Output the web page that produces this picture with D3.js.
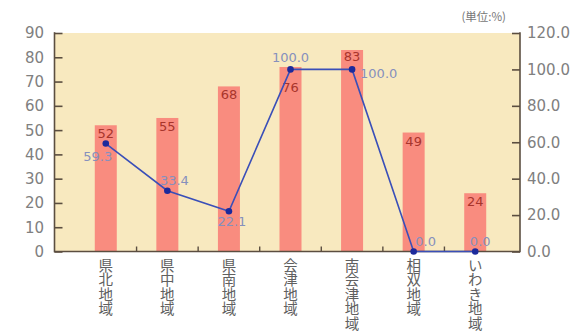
<!DOCTYPE html>
<html>
<head>
<meta charset="utf-8">
<script src="https://cdn.jsdelivr.net/npm/d3@7/dist/d3.min.js"></script>
<style>
  html, body { margin: 0; padding: 0; background: #ffffff; }
  svg { display: block; }
</style>
</head>
<body>
<svg id="chart" width="570" height="334"></svg>
<script>
// Regions (categories)
const regions = ["県北地域", "県中地域", "県南地域", "会津地域", "南会津地域", "相双地域", "いわき地域"];
// Bar series (left axis, 0-90)
const barValues = [52, 55, 68, 76, 83, 49, 24];
// Line series (right axis, 0-120 %)
const lineValues = [59.3, 33.4, 22.1, 100.0, 100.0, 0.0, 0.0];
// Axis ticks
const leftTicks = [0, 10, 20, 30, 40, 50, 60, 70, 80, 90];
const rightTicks = [0, 20, 40, 60, 80, 100, 120];
const unitLabel = "(単位:%)";

const svg = d3.select("#chart");
const plot = { left: 54.5, right: 520, top: 33, bottom: 251.5 };

const x = d3.scaleBand().domain(regions).range([75, 506]).paddingInner(0).paddingOuter(0);
const yL = d3.scaleLinear().domain([0, 90]).range([plot.bottom, plot.top]);
const yR = d3.scaleLinear().domain([0, 120]).range([plot.bottom, plot.top]);

const numFont = "'DejaVu Sans', sans-serif";
const jpFont = "'Noto Sans CJK JP', sans-serif";
const axisColor = "#5b4e40";

// plot background
svg.append("rect")
  .attr("x", plot.left).attr("y", plot.top)
  .attr("width", plot.right - plot.left).attr("height", plot.bottom - plot.top)
  .attr("fill", "#f8e9bf");

// bars
const barW = 22;
svg.append("g").selectAll("rect").data(barValues).join("rect")
  .attr("x", (d, i) => x(regions[i]) + x.bandwidth() / 2 - barW / 2)
  .attr("y", d => yL(d))
  .attr("width", barW)
  .attr("height", d => yL(0) - yL(d))
  .attr("fill", "#f98c7f");

// left axis (ticks inward)
const gL = svg.append("g").attr("transform", `translate(${plot.left},0)`)
  .call(d3.axisRight(yL).tickValues(leftTicks).tickSize(8).tickFormat(""));
gL.select(".domain").remove();
gL.selectAll("line").attr("stroke", axisColor).attr("stroke-width", 1.6);
svg.append("line").attr("x1", plot.left).attr("x2", plot.left)
  .attr("y1", plot.top - 0.8).attr("y2", plot.bottom + 0.8)
  .attr("stroke", axisColor).attr("stroke-width", 1.6);
svg.append("g").selectAll("text").data(leftTicks).join("text")
  .attr("x", 44).attr("y", d => yL(d)).attr("dy", "0.36em")
  .attr("text-anchor", "end")
  .attr("font-family", numFont).attr("font-size", 15).attr("fill", "#808080")
  .text(d => d);

// right axis (ticks inward)
const gR = svg.append("g").attr("transform", `translate(${plot.right},0)`)
  .call(d3.axisLeft(yR).tickValues(rightTicks).tickSize(8).tickFormat(""));
gR.select(".domain").remove();
gR.selectAll("line").attr("stroke", axisColor).attr("stroke-width", 1.6);
svg.append("line").attr("x1", plot.right).attr("x2", plot.right)
  .attr("y1", plot.top - 0.8).attr("y2", plot.bottom + 0.8)
  .attr("stroke", axisColor).attr("stroke-width", 1.6);
svg.append("g").selectAll("text").data(rightTicks).join("text")
  .attr("x", 527).attr("y", d => yR(d)).attr("dy", "0.36em")
  .attr("text-anchor", "start")
  .attr("font-family", numFont).attr("font-size", 15).attr("fill", "#808080")
  .text(d => d.toFixed(1));

// bottom axis with small ticks at category boundaries
svg.append("line").attr("x1", plot.left).attr("x2", plot.right)
  .attr("y1", plot.bottom).attr("y2", plot.bottom)
  .attr("stroke", axisColor).attr("stroke-width", 1.6);
svg.append("g").selectAll("line").data(regions.slice(1)).join("line")
  .attr("x1", d => x(d)).attr("x2", d => x(d))
  .attr("y1", plot.bottom).attr("y2", plot.bottom - 5)
  .attr("stroke", axisColor).attr("stroke-width", 1.4);

// vertical category labels (top-to-bottom writing)
svg.append("g").selectAll("text").data(regions).join("text")
  .attr("x", d => x(d) + x.bandwidth() / 2)
  .attr("y", 258)
  .style("writing-mode", "vertical-rl")
  .style("text-orientation", "upright")
  .attr("font-family", jpFont).attr("font-size", 14.5).attr("fill", "#606060")
  .text(d => d);

// bar value labels
const barLabelDy = [13, 13, 13, 25, 11, 13, 13];
svg.append("g").selectAll("text").data(barValues).join("text")
  .attr("x", (d, i) => x(regions[i]) + x.bandwidth() / 2)
  .attr("y", (d, i) => yL(d) + barLabelDy[i])
  .attr("text-anchor", "middle")
  .attr("font-family", numFont).attr("font-size", 13).attr("fill", "#a8352c")
  .text(d => d);

// line series
const cxOf = i => x(regions[i]) + x.bandwidth() / 2;
const line = d3.line().x((d, i) => cxOf(i)).y(d => yR(d));
svg.append("path").datum(lineValues)
  .attr("d", line).attr("fill", "none")
  .attr("stroke", "#3a4fb8").attr("stroke-width", 1.6);
svg.append("g").selectAll("circle").data(lineValues).join("circle")
  .attr("cx", (d, i) => cxOf(i)).attr("cy", d => yR(d)).attr("r", 3.3)
  .attr("fill", "#1c2a9c");

// line value labels
const lineLabelOffset = [
  { dx: -8, dy: 17, anchor: "middle" },
  { dx: 7, dy: -6, anchor: "middle" },
  { dx: 3, dy: 15, anchor: "middle" },
  { dx: 0, dy: -7, anchor: "middle" },
  { dx: 8, dy: 9, anchor: "start" },
  { dx: 12, dy: -6, anchor: "middle" },
  { dx: 5, dy: -6, anchor: "middle" }
];
svg.append("g").selectAll("text").data(lineValues).join("text")
  .attr("x", (d, i) => cxOf(i) + lineLabelOffset[i].dx)
  .attr("y", (d, i) => yR(d) + lineLabelOffset[i].dy)
  .attr("text-anchor", (d, i) => lineLabelOffset[i].anchor)
  .attr("font-family", numFont).attr("font-size", 13).attr("fill", "#8690bd")
  .text(d => d.toFixed(1));

// unit label
svg.append("text")
  .attr("x", 506).attr("y", 21).attr("text-anchor", "end")
  .attr("font-family", jpFont).attr("font-size", 11.5).attr("fill", "#777")
  .text(unitLabel);
</script>
</body>
</html>
